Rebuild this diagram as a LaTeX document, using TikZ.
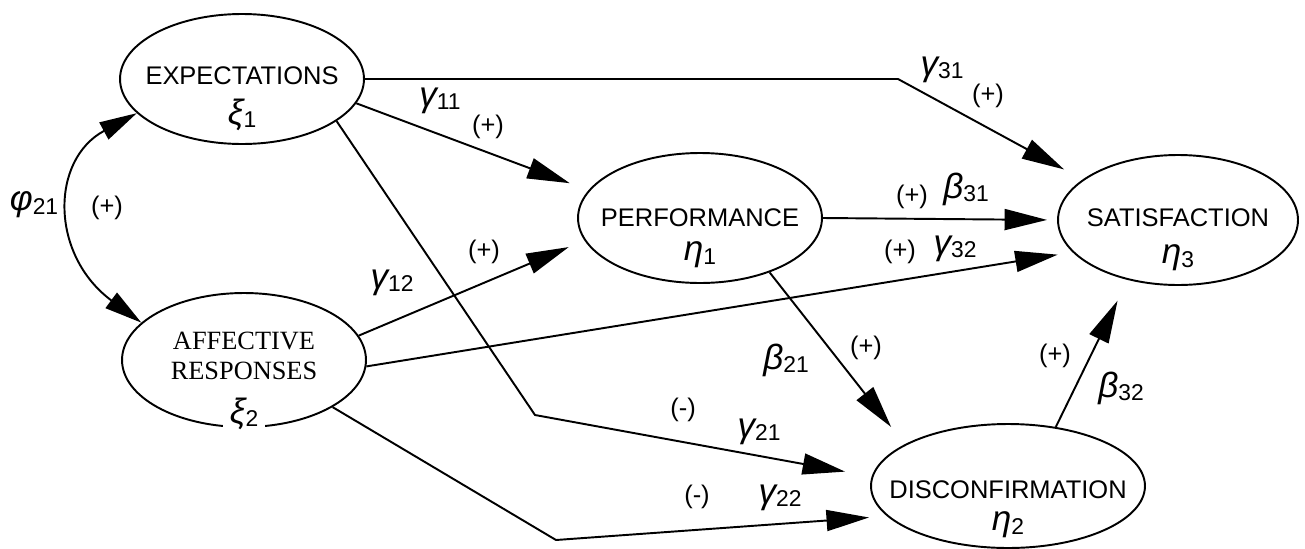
\documentclass[tikz,border=0pt]{standalone}
\usepackage{fontspec}
\setmainfont{Liberation Sans}
\newfontfamily\affont{Liberation Serif}
\usetikzlibrary{arrows.meta, shapes.geometric}
\newcommand{\coef}[2]{{\fontsize{20}{20}\selectfont\itshape #1}\raisebox{-0.35ex}{\fontsize{13}{13}\selectfont #2}}

\begin{document}
\begin{tikzpicture}[
    x=0.02cm, y=-0.02cm,
    line width=1.1pt,
    latent/.style={draw, ellipse, inner sep=0pt, minimum width=4.88cm, minimum height=2.6cm},
    vartext/.style={font=\fontsize{14.5}{17}\selectfont, inner sep=1pt},
    sym/.style={inner sep=1pt},
    sgn/.style={font=\fontsize{14.5}{17}\selectfont, inner sep=1pt},
    effect/.style={-{Triangle[length=0.85cm, width=0.42cm]}, shorten >=0.4cm},
    covar/.style={{Triangle[length=0.75cm, width=0.38cm]}-{Triangle[length=0.75cm, width=0.38cm]}}
    ]

    \useasboundingbox (0,0) rectangle (1305,548);

    % latent variables
    \node[latent] (exp) at (242,79) {};
    \node[vartext] (expname) at (242,76) {EXPECTATIONS};
    \node[sym] (expsym) at (242,115) {\coef{ξ}{1}};

    \node[latent, minimum height=2.68cm] (aff) at (244,360) {};
    \node[vartext, font=\affont\fontsize{15}{17.5}\selectfont, align=center] (affname) at (244,356) {AFFECTIVE\\RESPONSES};
    \node[sym, fill=white, inner xsep=4pt] (affsym) at (244,414) {\coef{ξ}{2}};

    \node[latent] (perf) at (700,218) {};
    \node[vartext] (perfname) at (700,218) {PERFORMANCE};
    \node[sym] (perfsym) at (700,255) {\coef{η}{1}};

    \node[latent, minimum width=4.8cm] (sat) at (1178,220) {};
    \node[vartext] (satname) at (1178,218) {SATISFACTION};
    \node[sym] (satsym) at (1178,258) {\coef{η}{3}};

    \node[latent, minimum width=5.48cm, minimum height=2.48cm] (disc) at (1008,486) {};
    \node[vartext] (discname) at (1008,490) {DISCONFIRMATION};
    \node[sym] (discsym) at (1008,525) {\coef{η}{2}};

    % bends
    \coordinate (k31) at (898,79);
    \coordinate (k21) at (535,415);
    \coordinate (k22) at (556,540);

    % paths
    \draw[covar] (aff.160) .. controls (50,255) and (50,160) .. (exp.198);
    \draw[effect, shorten >=0.42cm] (exp.east) -- (k31) -- (sat.157);
    \draw[effect] (exp.348) -- (perf.166);
    \draw[effect, shorten >=0.54cm] (exp.336) -- (k21) -- (disc.176);
    \draw[effect, shorten >=0.34cm] (aff.12) -- (perf.191);
    \draw[effect, shorten >=0.3cm] (aff.357) -- (sat.197);
    \draw[effect, shorten >=0.36cm] (aff.332) -- (k22) -- (disc.194);
    \draw[effect, shorten >=0.2cm] (perf.east) -- (sat.west);
    \draw[effect, shorten >=0.44cm] (perf.322) -- (disc.158);
    \draw[effect, shorten >=0.46cm] (disc.51) -- (sat.230);

    % coefficients and signs
    \node[sym] (phi21) at (34,205) {\coef{φ}{21}};
    \node[sgn] (phisgn) at (107,208) {(+)};
    \node[sym] (g11) at (440,101) {\coef{γ}{11}};
    \node[sgn] (g11sgn) at (488,127) {(+)};
    \node[sym] (g31) at (942,70) {\coef{γ}{31}};
    \node[sgn] (g31sgn) at (988,96) {(+)};
    \node[sym] (g12) at (392,283) {\coef{γ}{12}};
    \node[sgn] (g12sgn) at (484,252) {(+)};
    \node[sgn] (b31sgn) at (912,197) {(+)};
    \node[sym] (b31) at (966,189) {\coef{β}{31}};
    \node[sgn] (g32sgn) at (900,252) {(+)};
    \node[sym] (g32) at (955,249) {\coef{γ}{32}};
    \node[sym] (b21) at (786,360) {\coef{β}{21}};
    \node[sgn] (b21sgn) at (866,348) {(+)};
    \node[sgn] (g21sgn) at (683,410) {(-)};
    \node[sym] (g21) at (759,432) {\coef{γ}{21}};
    \node[sgn] (g22sgn) at (697,497) {(-)};
    \node[sym] (g22) at (780,498) {\coef{γ}{22}};
    \node[sgn] (b32sgn) at (1055,356) {(+)};
    \node[sym] (b32) at (1121,388) {\coef{β}{32}};

\end{tikzpicture}
\end{document}
